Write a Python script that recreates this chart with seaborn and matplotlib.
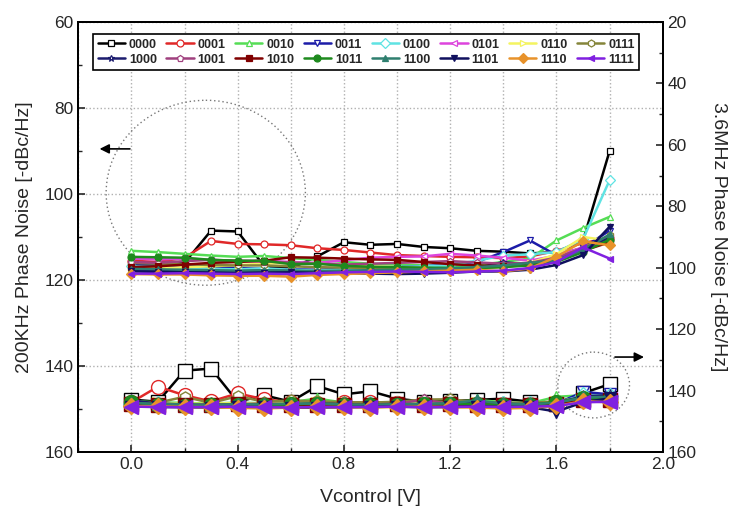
"""Phase noise vs control voltage for the 16 coarse-tuning codes."""

import matplotlib.pyplot as plt
import numpy as np
import pandas as pd
import seaborn as sns
from matplotlib.patches import Ellipse
from matplotlib.ticker import MultipleLocator

vcontrol = [0.0, 0.1, 0.2, 0.3, 0.4, 0.5, 0.6, 0.7, 0.8, 0.9,
            1.0, 1.1, 1.2, 1.3, 1.4, 1.5, 1.6, 1.7, 1.8]

codes = ["0000", "0001", "0010", "0011", "0100", "0101", "0110", "0111",
         "1000", "1001", "1010", "1011", "1100", "1101", "1110", "1111"]

# 200 kHz offset phase noise (left axis, -dBc/Hz)
pn200_0000 = [116.5, 116.8, 116.0, 108.5, 108.7, 116.8, 117.3, 114.5, 111.2, 111.8,
              111.6, 112.3, 112.6, 113.2, 113.4, 113.8, 113.5, 110.8, 90.0]
pn200_0001 = [115.5, 115.8, 114.8, 110.9, 111.6, 111.7, 111.9, 112.6, 113.0, 113.6,
              114.2, 114.4, 114.6, 114.7, 114.9, 114.5, 113.2, 111.4, 110.2]
pn200_0010 = [113.2, 113.5, 113.9, 114.3, 114.6, 114.4, 114.9, 115.3, 115.8, 116.2,
              116.4, 116.6, 116.8, 116.5, 115.8, 115.0, 110.8, 107.9, 105.3]
pn200_0011 = [116.3, 116.5, 116.8, 116.9, 117.2, 117.4, 117.5, 117.6, 117.4, 117.2,
              117.0, 116.8, 116.3, 115.8, 113.5, 110.8, 114.2, 112.5, 108.5]
pn200_0100 = [116.8, 117.0, 117.2, 117.4, 117.5, 117.3, 117.6, 117.8, 117.5, 117.3,
              117.0, 116.8, 116.5, 115.5, 114.3, 114.0, 113.5, 110.5, 96.8]
pn200_0101 = [115.0, 115.2, 115.0, 115.3, 115.6, 115.5, 115.8, 116.0, 115.4, 114.8,
              114.6, 114.5, 113.9, 114.3, 114.8, 115.5, 114.3, 112.4, 110.0]
pn200_0110 = [117.2, 117.3, 117.0, 116.8, 116.5, 116.2, 116.0, 116.2, 116.5, 116.8,
              117.0, 117.2, 117.3, 117.4, 117.0, 116.0, 114.0, 110.0, 110.8]
pn200_0111 = [116.0, 116.2, 116.3, 116.5, 116.6, 116.6, 116.8, 117.0, 117.1, 117.2,
              117.3, 117.4, 117.5, 117.3, 116.8, 116.2, 115.0, 112.5, 109.6]
pn200_1000 = [117.6, 117.8, 117.9, 118.0, 118.0, 117.8, 117.9, 118.0, 118.1, 118.2,
              118.0, 117.8, 117.6, 117.2, 115.8, 116.5, 115.5, 112.8, 110.2]
pn200_1001 = [115.8, 116.0, 115.6, 115.3, 115.5, 115.7, 115.9, 116.2, 116.4, 116.2,
              116.0, 115.8, 115.6, 115.9, 116.2, 116.0, 114.8, 112.6, 111.0]
pn200_1010 = [117.0, 116.8, 116.4, 116.0, 115.8, 115.5, 114.7, 114.8, 115.0, 115.2,
              115.3, 115.8, 116.3, 116.6, 116.8, 116.5, 115.6, 113.2, 111.2]
pn200_1011 = [114.6, 114.7, 114.8, 115.3, 115.5, 115.5, 116.3, 116.2, 116.7, 116.9,
              117.0, 117.1, 117.2, 117.2, 117.0, 116.6, 115.8, 113.5, 110.6]
pn200_1100 = [117.4, 117.5, 117.6, 117.7, 117.8, 117.7, 117.8, 117.9, 117.8, 117.7,
              117.6, 117.5, 117.3, 117.0, 116.6, 116.0, 115.4, 113.0, 109.4]
pn200_1101 = [118.0, 118.1, 118.2, 118.3, 118.4, 118.3, 118.2, 118.3, 118.4, 118.5,
              118.6, 118.5, 118.3, 118.0, 118.0, 117.6, 116.5, 114.2, 107.6]
pn200_1110 = [118.6, 118.7, 118.7, 118.9, 119.0, 119.0, 119.2, 118.8, 118.6, 118.4,
              118.2, 118.0, 117.8, 117.6, 118.0, 117.3, 114.6, 111.0, 111.9]
pn200_1111 = [118.5, 118.5, 118.4, 118.5, 118.6, 118.5, 118.6, 118.4, 118.2, 118.1,
              118.0, 118.1, 118.2, 118.0, 117.8, 117.2, 115.8, 112.4, 115.0]

# 3.6 MHz offset phase noise (right axis, -dBc/Hz)
pn36_0000 = [142.9, 143.6, 133.5, 132.8, 143.6, 141.5, 143.6, 138.5, 141.2, 140.2,
             142.6, 143.6, 143.4, 143.0, 142.6, 143.6, 144.2, 140.8, 137.9]
pn36_0001 = [143.8, 138.7, 141.5, 143.5, 140.9, 142.8, 143.8, 144.0, 143.8, 143.8,
             144.0, 144.2, 144.0, 144.3, 144.5, 144.3, 144.0, 143.2, 142.5]
pn36_0010 = [143.4, 143.8, 144.0, 144.2, 143.9, 144.1, 143.7, 142.6, 143.9, 144.1,
             144.0, 144.2, 143.9, 143.0, 143.8, 144.1, 142.0, 141.5, 142.0]
pn36_0011 = [144.6, 144.8, 144.9, 145.0, 144.8, 144.9, 145.0, 144.7, 144.9, 144.8,
             144.7, 144.6, 144.8, 144.5, 144.6, 144.8, 144.3, 140.4, 141.2]
pn36_0100 = [144.3, 144.5, 144.6, 144.7, 144.5, 144.6, 144.4, 144.3, 144.4, 144.5,
             144.3, 144.4, 144.2, 144.4, 144.3, 144.5, 144.0, 141.5, 141.8]
pn36_0101 = [144.9, 145.0, 145.1, 145.2, 145.0, 145.1, 145.0, 144.9, 145.0, 145.1,
             144.9, 145.0, 144.8, 144.9, 145.0, 145.1, 144.6, 143.0, 142.8]
pn36_0110 = [144.0, 144.1, 144.3, 144.2, 144.1, 144.3, 144.2, 144.0, 144.1, 144.2,
             144.0, 144.1, 143.9, 144.1, 144.2, 144.4, 143.8, 142.6, 142.3]
pn36_0111 = [143.6, 143.9, 142.0, 144.0, 141.8, 143.6, 143.2, 143.5, 143.7, 143.9,
             143.6, 142.9, 142.8, 143.7, 143.9, 144.0, 143.5, 142.2, 142.0]
pn36_1000 = [143.2, 144.2, 144.5, 144.6, 144.4, 144.5, 144.3, 144.2, 144.4, 144.5,
             144.3, 144.4, 144.2, 143.6, 144.3, 144.5, 144.1, 141.8, 141.5]
pn36_1001 = [144.2, 144.4, 144.6, 144.5, 144.4, 144.2, 144.5, 144.6, 144.4, 144.5,
             144.3, 142.9, 144.4, 144.6, 144.5, 144.4, 144.2, 142.8, 142.4]
pn36_1010 = [144.5, 144.6, 144.7, 144.8, 144.5, 144.6, 144.7, 144.8, 144.6, 144.7,
             144.5, 144.6, 144.4, 144.6, 144.7, 144.8, 144.4, 143.2, 143.0]
pn36_1011 = [143.8, 144.7, 144.9, 144.8, 144.6, 144.7, 144.5, 144.2, 144.6, 144.7,
             144.6, 144.5, 144.3, 144.4, 144.6, 144.7, 143.6, 142.5, 142.6]
pn36_1100 = [144.0, 144.3, 144.5, 144.6, 144.4, 144.5, 144.3, 144.2, 144.5, 144.6,
             144.4, 144.3, 144.1, 143.2, 144.2, 144.4, 144.0, 142.2, 142.0]
pn36_1101 = [145.2, 145.3, 145.4, 145.5, 145.3, 145.4, 145.6, 145.5, 145.4, 145.3,
             145.2, 145.4, 145.3, 145.2, 145.3, 145.4, 146.8, 143.8, 142.5]
pn36_1110 = [145.0, 145.1, 145.3, 145.4, 145.6, 145.8, 145.5, 145.3, 145.4, 145.5,
             145.3, 145.2, 145.4, 145.5, 145.8, 145.6, 145.0, 143.4, 143.8]
pn36_1111 = [145.2, 145.3, 145.4, 145.3, 145.2, 145.4, 145.5, 145.3, 145.4, 145.3,
             145.2, 145.4, 145.3, 145.2, 145.3, 145.2, 145.0, 143.8, 143.6]

pn200 = [pn200_0000, pn200_0001, pn200_0010, pn200_0011, pn200_0100, pn200_0101,
         pn200_0110, pn200_0111, pn200_1000, pn200_1001, pn200_1010, pn200_1011,
         pn200_1100, pn200_1101, pn200_1110, pn200_1111]
pn36 = [pn36_0000, pn36_0001, pn36_0010, pn36_0011, pn36_0100, pn36_0101,
        pn36_0110, pn36_0111, pn36_1000, pn36_1001, pn36_1010, pn36_1011,
        pn36_1100, pn36_1101, pn36_1110, pn36_1111]

CODE_STYLES = {
    # code: (color, marker, hollow)
    "0000": ("#000000", "s", True),
    "0001": ("#e02828", "o", True),
    "0010": ("#55dd55", "^", True),
    "0011": ("#1c1ca8", "v", True),
    "0100": ("#5fe3e3", "D", True),
    "0101": ("#dd44dd", "<", True),
    "0110": ("#f4f460", ">", True),
    "0111": ("#85853a", "h", True),
    "1000": ("#1c1c6e", "*", True),
    "1001": ("#a0407e", "p", True),
    "1010": ("#800000", "s", False),
    "1011": ("#1e8a1e", "o", False),
    "1100": ("#2f7f6f", "^", False),
    "1101": ("#10105e", "v", False),
    "1110": ("#e8922a", "D", False),
    "1111": ("#8020e0", "<", False),
}

frames_200 = []
frames_36 = []
for code, y200, y36 in zip(codes, pn200, pn36):
    frames_200.append(pd.DataFrame({"Vcontrol": vcontrol, "pn": y200, "code": code}))
    frames_36.append(pd.DataFrame({"Vcontrol": vcontrol, "pn": y36, "code": code}))
df200 = pd.concat(frames_200, ignore_index=True)
df36 = pd.concat(frames_36, ignore_index=True)

sns.set_theme(style="ticks")
plt.rcParams["font.family"] = ["Liberation Sans", "DejaVu Sans"]
plt.rcParams["xtick.direction"] = "in"
plt.rcParams["ytick.direction"] = "in"

figure, axis = plt.subplots(figsize=(7.38, 5.12), dpi=100)
figure.subplots_adjust(left=0.106, right=0.898, top=0.957, bottom=0.117)
twin = axis.twinx()

for code in codes:
    color, marker, hollow = CODE_STYLES[code]
    face = "white" if hollow else color
    sub = df200[df200["code"] == code]
    sns.lineplot(data=sub, x="Vcontrol", y="pn", ax=axis, color=color, lw=1.8,
                 marker=marker, markersize=5, markerfacecolor=face,
                 markeredgecolor=color, markeredgewidth=0.9, label=code)
    sub = df36[df36["code"] == code]
    size = 10 if marker in ("s", "<", "o") else 8
    sns.lineplot(data=sub, x="Vcontrol", y="pn", ax=twin, color=color, lw=1.8,
                 marker=marker, markersize=size, markerfacecolor=face,
                 markeredgecolor=color, markeredgewidth=1.0, legend=False)

axis.set_xlim(-0.2, 2.0)
axis.set_ylim(160, 60)
twin.set_ylim(160, 20)
axis.xaxis.set_major_locator(MultipleLocator(0.4))
axis.xaxis.set_minor_locator(MultipleLocator(0.2))
axis.yaxis.set_major_locator(MultipleLocator(20))
axis.yaxis.set_minor_locator(MultipleLocator(10))
twin.yaxis.set_major_locator(MultipleLocator(20))
twin.yaxis.set_minor_locator(MultipleLocator(10))
axis.xaxis.set_major_formatter(plt.FormatStrFormatter("%.1f"))

axis.grid(axis="x", which="both", color="#b0b0b0", linestyle=":", linewidth=1.0)
axis.grid(axis="y", which="major", color="#b0b0b0", linestyle=":", linewidth=1.0)

for ax_ in (axis, twin):
    ax_.tick_params(which="major", length=5, width=1.2, labelsize=12.5)
    ax_.tick_params(which="minor", length=3, width=1.0)
    for spine in ax_.spines.values():
        spine.set_visible(True)
        spine.set_linewidth(1.4)
        spine.set_color("black")

axis.set_xlabel("Vcontrol [V]", fontsize=14, labelpad=12)
axis.set_ylabel("200KHz Phase Noise [-dBc/Hz]", fontsize=14, labelpad=8)
twin.set_xlabel("")
twin.set_ylabel("3.6MHz Phase Noise [-dBc/Hz]", fontsize=14, rotation=-90, labelpad=22)

# dotted circles and arrows pointing to the relevant axis
axis.add_patch(Ellipse((0.28, 99.7), 0.75, 43, fill=False, edgecolor="#777777",
                       linestyle=(0, (1, 2)), linewidth=1.0, zorder=1))
axis.add_patch(Ellipse((1.74, 144.4), 0.27, 15.3, fill=False, edgecolor="#777777",
                       linestyle=(0, (1, 2)), linewidth=1.0, zorder=1))
axis.annotate("", xy=(-0.13, 89.5), xytext=(0.005, 89.5),
              arrowprops=dict(arrowstyle="-|>", color="black", lw=1.2, mutation_scale=14))
axis.annotate("", xy=(1.94, 137.9), xytext=(1.81, 137.9),
              arrowprops=dict(arrowstyle="-|>", color="black", lw=1.2, mutation_scale=14))

# legend is filled row by row: 0000..0111 on top, 1000..1111 below
handles, labels = axis.get_legend_handles_labels()
order = [i + 8 * row for i in range(8) for row in range(2)]
legend = twin.legend([handles[i] for i in order], [labels[i] for i in order],
                     ncol=8, loc="upper left",
                     bbox_to_anchor=(0.015, 0.986, 0.955, 0.0), mode="expand",
                     frameon=True, fancybox=False, edgecolor="black", framealpha=1,
                     handlelength=2.2, handletextpad=0.3, columnspacing=0.5,
                     borderpad=0.35, labelspacing=0.25,
                     prop={"weight": "bold", "size": 9})
legend.get_frame().set_linewidth(1.2)
axis.get_legend().remove()

figure.savefig("out.png", dpi=100)
